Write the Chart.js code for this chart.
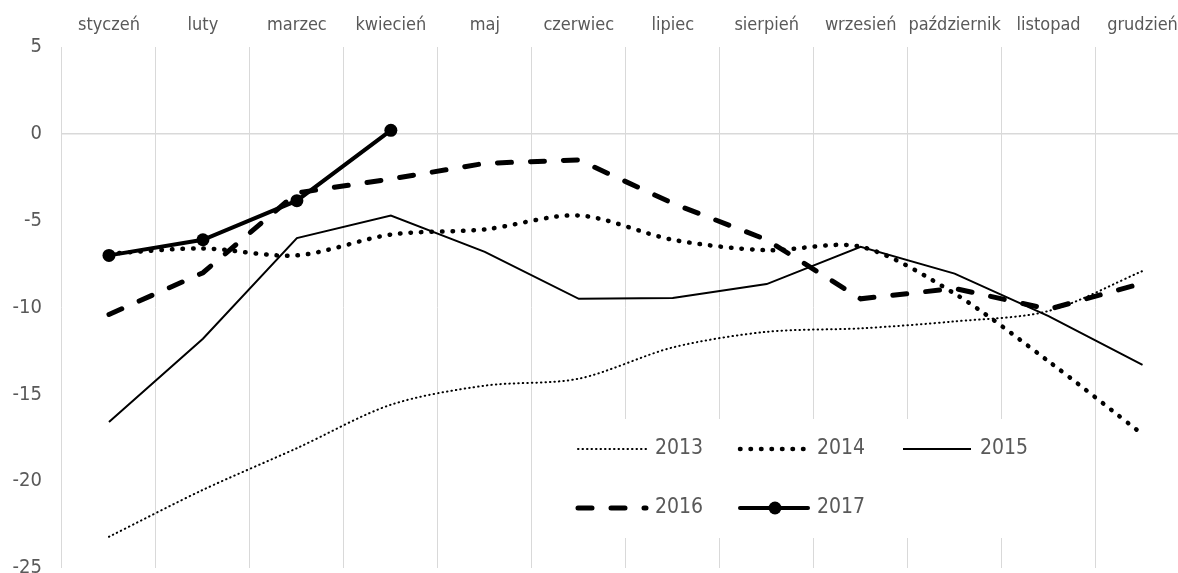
<!DOCTYPE html>
<html>
<head>
<meta charset="utf-8">
<script src="https://cdn.jsdelivr.net/npm/chart.js@4.4.1/dist/chart.umd.min.js"></script>
<style>
  html, body { margin: 0; padding: 0; background: #fff; overflow: hidden; }
  #wrap { width: 1196px; height: 600px; }
</style>
</head>
<body>
<div id="wrap"><canvas id="yearChart" width="1196" height="600"></canvas></div>
<script>
const months = ['styczeń', 'luty', 'marzec', 'kwiecień', 'maj', 'czerwiec',
  'lipiec', 'sierpień', 'wrzesień', 'październik', 'listopad', 'grudzień'];
const years = ['2013', '2014', '2015', '2016', '2017'];

const values2013 = [-23.2, -20.5, -18.1, -15.6, -14.5, -14.1, -12.3, -11.4, -11.2, -10.8, -10.2, -7.9];
const values2014 = [-6.9, -6.6, -7.0, -5.8, -5.5, -4.7, -6.1, -6.7, -6.5, -9.2, -13.1, -17.3];
const values2015 = [-16.6, -11.8, -6.0, -4.7, -6.8, -9.5, -9.45, -8.65, -6.5, -8.05, -10.5, -13.3];
const values2016 = [-10.4, -8.0, -3.4, -2.6, -1.7, -1.5, -4.0, -6.1, -9.5, -8.9, -10.1, -8.6];
const values2017 = [-7.0, -6.1, -3.85, 0.2, null, null, null, null, null, null, null, null];

const yTicks = [5, 0, -5, -10, -15, -20, -25];

const FONT = '"DejaVu Sans Condensed", "DejaVu Sans", sans-serif';
const TEXT = '#595959';
const GRID = '#d9d9d9';

const styles = [
  { borderWidth: 2, borderDash: [0.5, 4], borderCapStyle: 'round', tension: 0.3, pointRadius: 0 },
  { borderWidth: 4.5, borderDash: [0.5, 10], borderCapStyle: 'round', tension: 0.3, pointRadius: 0 },
  { borderWidth: 2, borderDash: [], borderCapStyle: 'butt', tension: 0, pointRadius: 0 },
  { borderWidth: 5, borderDash: [14, 19], borderCapStyle: 'round', tension: 0, pointRadius: 0 },
  { borderWidth: 4, borderDash: [], borderCapStyle: 'round', tension: 0, pointRadius: 6.5 },
];
const series = [values2013, values2014, values2015, values2016, values2017];

// legend drawn inside the plot, two rows, white box hides the grid
const insideLegend = {
  id: 'insideLegend',
  beforeDatasetsDraw(chart) {
    const ctx = chart.ctx;
    ctx.save();
    ctx.fillStyle = '#fff';
    ctx.fillRect(560, 419, 490, 119);
    ctx.restore();
  },
  afterDatasetsDraw(chart) {
    const ctx = chart.ctx;
    const cols = [578, 740, 903];
    const rows = [449, 508];
    ctx.save();
    chart.data.datasets.forEach((ds, i) => {
      const x = cols[i % 3];
      const y = rows[Math.floor(i / 3)];
      ctx.strokeStyle = ds.borderColor;
      ctx.lineWidth = ds.borderWidth;
      ctx.lineCap = ds.borderCapStyle;
      ctx.setLineDash(ds.borderDash);
      ctx.beginPath();
      ctx.moveTo(x, y);
      ctx.lineTo(x + 68, y);
      ctx.stroke();
      if (ds.pointRadius > 0) {
        ctx.setLineDash([]);
        ctx.fillStyle = ds.borderColor;
        ctx.beginPath();
        ctx.arc(x + 35, y, ds.pointRadius, 0, Math.PI * 2);
        ctx.fill();
      }
      ctx.setLineDash([]);
      ctx.fillStyle = TEXT;
      ctx.font = '21px ' + FONT;
      ctx.textBaseline = 'middle';
      ctx.fillText(ds.label, x + 77, y);
    });
    ctx.restore();
  },
};

const datasets = years.map((year, i) => ({
  label: year,
  data: series[i],
  borderColor: '#000',
  backgroundColor: '#000',
  pointBackgroundColor: '#000',
  pointBorderWidth: 0,
  pointHoverRadius: 0,
  fill: false,
  spanGaps: false,
  ...styles[i],
}));

new Chart(document.getElementById('yearChart'), {
  type: 'line',
  data: { labels: months, datasets },
  plugins: [insideLegend],
  options: {
    responsive: false,
    animation: false,
    devicePixelRatio: 1,
    layout: { padding: 0 },
    plugins: {
      legend: { display: false },
      tooltip: { enabled: false },
    },
    scales: {
      x: {
        position: 'top',
        offset: true,
        grid: { offset: true, color: GRID, lineWidth: 1, drawTicks: false },
        border: { display: false },
        ticks: {
          color: TEXT,
          font: { family: FONT, size: 18 },
          padding: 11,
          maxRotation: 0,
          autoSkip: false,
        },
        afterFit(scale) { scale.height = 47; },
      },
      y: {
        min: -25,
        max: 5,
        afterBuildTicks(scale) { scale.ticks = yTicks.map((v) => ({ value: v })); },
        grid: {
          drawTicks: false,
          color: (c) => (c.tick && c.tick.value === 0 ? GRID : 'rgba(0,0,0,0)'),
          lineWidth: 1.5,
        },
        border: { display: false },
        ticks: {
          color: TEXT,
          font: { family: FONT, size: 20 },
          padding: 20,
        },
        afterFit(scale) { scale.width = 62; },
      },
    },
  },
});
</script>
</body>
</html>
